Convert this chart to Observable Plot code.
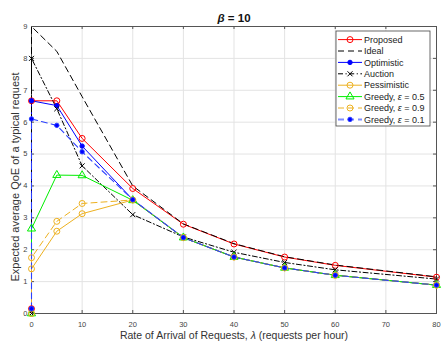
<!DOCTYPE html>
<html><head><meta charset="utf-8">
<script src="https://cdn.jsdelivr.net/npm/d3@7"></script>
<script src="https://cdn.jsdelivr.net/npm/@observablehq/plot@0.6"></script>
<style>
body{margin:0;background:#fff}
#chart svg{font-family:"Liberation Sans",Arial,sans-serif;background:#fff}
</style>
</head><body><div id="chart"></div>
<script>
// x positions (first point: start of vertical segment at λ = 0)
const xs = [0, 0, 5, 10, 20, 30, 40, 50, 60, 80];
const xTicks = [0, 10, 20, 30, 40, 50, 60, 70, 80];
const yTicks = [0, 1, 2, 3, 4, 5, 6, 7, 8, 9];

const proposed    = [0.15, 6.67, 6.67, 5.49, 3.92, 2.80, 2.18, 1.77, 1.51, 1.14];
const ideal       = [0,    9.00, 8.22, 6.80, 4.00, 2.81, 2.19, 1.78, 1.52, 1.15];
const optimistic  = [0.15, 6.67, 6.52, 5.25, 3.57, 2.38, 1.77, 1.43, 1.20, 0.89];
const auction     = [0,    8.00, 6.42, 4.63, 3.10, 2.40, 1.92, 1.60, 1.37, 1.08];
const pessimistic = [0,    1.40, 2.58, 3.13, 3.56, 2.38, 1.77, 1.43, 1.20, 0.89];
const greedy05    = [0,    2.66, 4.34, 4.33, 3.55, 2.38, 1.77, 1.43, 1.20, 0.89];
const greedy09    = [0,    1.75, 2.89, 3.45, 3.56, 2.38, 1.77, 1.43, 1.20, 0.89];
const greedy01    = [0.15, 6.10, 5.90, 5.07, 3.57, 2.38, 1.77, 1.43, 1.20, 0.89];

const seriesNames = ["Proposed", "Ideal", "Optimistic", "Auction", "Pessimistic",
  "Greedy, ε = 0.5", "Greedy, ε = 0.9", "Greedy, ε = 0.1"];
const seriesValues = [proposed, ideal, optimistic, auction, pessimistic, greedy05, greedy09, greedy01];

const titleText = "β = 10";
const xLabel = "Rate of Arrival of Requests, λ (requests per hour)";
const yLabel = "Expected average QoE of a typical request";

// styles
const styles = [
  {stroke: "#ff0000", dash: null, symbol: "circle", fill: "none", r: 3, w: 1},
  {stroke: "#000000", dash: "6,4", symbol: null, fill: "none", r: 0, w: 1},
  {stroke: "#0000ff", dash: null, symbol: "circle", fill: "#0000ff", r: 2.2, w: 1},
  {stroke: "#000000", dash: "5,2.5,1.2,2.5", symbol: "times", fill: "none", r: 2.4, w: 1},
  {stroke: "#edb120", dash: null, symbol: "circle", fill: "none", r: 3, w: 1},
  {stroke: "#00ee00", dash: null, symbol: "triangle", fill: "none", r: 3, w: 1},
  {stroke: "#edb120", dash: "6,4", symbol: "circle", fill: "none", r: 3, w: 1},
  {stroke: "#2a3fff", dash: "6,4", symbol: "circle", fill: "#0000ff", r: 2.2, w: 1.1}
];

const series = seriesNames.map((name, k) => ({
  name, style: styles[k],
  data: xs.map((x, i) => ({x, y: seriesValues[k][i]}))
}));

const W = 443, H = 353, mL = 31, mR = 7, mT = 26, mB = 40;
const pw = W - mL - mR, ph = H - mT - mB;

const marks = [
  Plot.gridX(xTicks, {stroke: "#e3e3e3", strokeOpacity: 1}),
  Plot.gridY(yTicks, {stroke: "#e3e3e3", strokeOpacity: 1}),
  Plot.frame({stroke: "#555"}),
  Plot.tickX(xTicks, {x: d => d, insetTop: ph - 3, stroke: "#555"}),
  Plot.tickX(xTicks, {x: d => d, insetBottom: ph - 3, stroke: "#555"}),
  Plot.tickY(yTicks, {y: d => d, insetRight: pw - 3, stroke: "#555"}),
  Plot.tickY(yTicks, {y: d => d, insetLeft: pw - 3, stroke: "#555"}),
  Plot.axisX(xTicks, {tickSize: 0, tickPadding: 8, fontSize: 7.5, color: "#444", label: null}),
  Plot.axisY(yTicks, {tickSize: 0, tickPadding: 4, fontSize: 7.5, color: "#444", label: null}),
];
for (const s of series) {
  const st = s.style;
  marks.push(Plot.line(s.data, {x: "x", y: "y", stroke: st.stroke, strokeWidth: st.w,
    strokeDasharray: st.dash || undefined, curve: "linear"}));
}
for (const s of series) {
  const st = s.style;
  if (!st.symbol) continue;
  marks.push(Plot.dot(s.data, {x: "x", y: "y", symbol: st.symbol, r: st.r,
    stroke: st.stroke, fill: st.fill, strokeWidth: 1}));
}
marks.push(
  Plot.text([titleText], {frameAnchor: "top", dy: -8, lineAnchor: "middle", textAnchor: "middle",
    fontSize: 11.5, fontWeight: "bold", fill: "#111"}),
  Plot.text([xLabel], {frameAnchor: "bottom", dy: 22, lineAnchor: "middle", textAnchor: "middle",
    fontSize: 10.5, fill: "#333"}),
  Plot.text([yLabel], {frameAnchor: "left", dx: -16, dy: 7, rotate: -90, lineAnchor: "middle",
    textAnchor: "middle", fontSize: 11, fill: "#333"})
);

const chart = Plot.plot({
  width: W, height: H,
  marginLeft: mL, marginRight: mR, marginTop: mT, marginBottom: mB,
  x: {domain: [0, 80]},
  y: {domain: [0, 9]},
  style: {background: "#fff"},
  marks
});
document.getElementById("chart").appendChild(chart);

// italicize greek letters
function italicizeGreek(textEl) {
  const t = textEl.textContent;
  if (!/[λβε]/.test(t)) return;
  const node = textEl.querySelector("tspan") || textEl;
  const parts = t.split(/([λβε])/);
  node.textContent = "";
  for (const p of parts) {
    if (!p) continue;
    const ts = document.createElementNS("http://www.w3.org/2000/svg", "tspan");
    ts.textContent = p;
    if (/[λβε]/.test(p)) ts.setAttribute("font-style", "italic");
    node.appendChild(ts);
  }
}
d3.select(chart).selectAll("text").each(function() { italicizeGreek(this); });

// legend
const svg = d3.select(chart);
const lg = svg.append("g").attr("text-anchor", "start");
const lx = 336, ly = 31, lw = 94, lh = 95;
lg.append("rect").attr("x", lx).attr("y", ly).attr("width", lw).attr("height", lh)
  .attr("fill", "#fff").attr("stroke", "#444").attr("stroke-width", 0.8);
series.forEach((s, i) => {
  const st = s.style;
  const y = 39.6 + i * 11.4;
  const g = lg.append("g");
  g.append("line").attr("x1", 338).attr("x2", 362).attr("y1", y).attr("y2", y)
    .attr("stroke", st.stroke).attr("stroke-width", i === 7 ? 2 : 1)
    .attr("stroke-opacity", i === 7 ? 0.6 : 1)
    .attr("stroke-dasharray", st.dash || null);
  if (st.symbol) {
    const sym = {circle: d3.symbolCircle, times: d3.symbolTimes, triangle: d3.symbolTriangle}[st.symbol];
    const size = Math.PI * st.r * st.r;
    g.append("path").attr("transform", `translate(350,${y})`)
      .attr("d", d3.symbol(sym, size)())
      .attr("fill", st.fill).attr("stroke", st.stroke).attr("stroke-width", 1);
  }
  const tx = g.append("text").attr("x", 364).attr("y", y).attr("dy", "0.35em")
    .attr("text-anchor", "start")
    .attr("font-size", 9).attr("fill", "#222").text(s.name);
  italicizeGreek(tx.node());
});
</script>
</body></html>
